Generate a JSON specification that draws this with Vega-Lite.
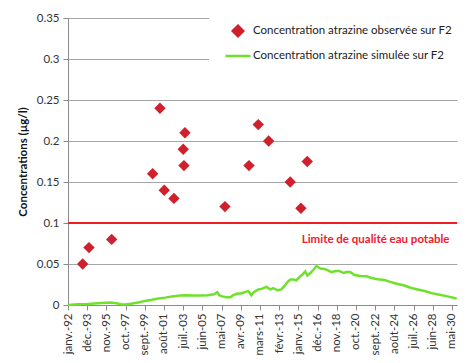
{
  "$schema": "https://vega.github.io/schema/vega-lite/v6.json",
  "width": 389,
  "height": 287,
  "autosize": {"type": "none"},
  "padding": {"left": 68, "top": 18, "right": 15, "bottom": 58},
  "config": {
    "view": {"stroke": null},
    "font": "Lato",
    "axis": {"labelFont": "Lato", "titleFont": "Lato", "labelColor": "#333333", "domainColor": "#8c8c8c", "tickColor": "#8c8c8c", "gridColor": "#a6a6a6", "labelFontSize": 11.5}
  },
  "datasets": {
    "obs": [
      {"date": "1993-06-19", "conc": 0.05, "serie": "Concentration atrazine observée sur F2"},
      {"date": "1994-02-04", "conc": 0.07, "serie": "Concentration atrazine observée sur F2"},
      {"date": "1996-05-11", "conc": 0.08, "serie": "Concentration atrazine observée sur F2"},
      {"date": "2000-06-14", "conc": 0.16, "serie": "Concentration atrazine observée sur F2"},
      {"date": "2001-03-07", "conc": 0.24, "serie": "Concentration atrazine observée sur F2"},
      {"date": "2001-08-11", "conc": 0.14, "serie": "Concentration atrazine observée sur F2"},
      {"date": "2002-07-30", "conc": 0.13, "serie": "Concentration atrazine observée sur F2"},
      {"date": "2003-07-04", "conc": 0.19, "serie": "Concentration atrazine observée sur F2"},
      {"date": "2003-07-30", "conc": 0.17, "serie": "Concentration atrazine observée sur F2"},
      {"date": "2003-09-04", "conc": 0.21, "serie": "Concentration atrazine observée sur F2"},
      {"date": "2007-09-02", "conc": 0.12, "serie": "Concentration atrazine observée sur F2"},
      {"date": "2010-01-25", "conc": 0.17, "serie": "Concentration atrazine observée sur F2"},
      {"date": "2010-12-29", "conc": 0.22, "serie": "Concentration atrazine observée sur F2"},
      {"date": "2012-01-13", "conc": 0.2, "serie": "Concentration atrazine observée sur F2"},
      {"date": "2014-03-09", "conc": 0.15, "serie": "Concentration atrazine observée sur F2"},
      {"date": "2015-04-03", "conc": 0.118, "serie": "Concentration atrazine observée sur F2"},
      {"date": "2015-11-19", "conc": 0.175, "serie": "Concentration atrazine observée sur F2"}
    ],
    "sim": [
      {"date": "1992-01-01", "conc": 0.0, "serie": "Concentration atrazine simulée sur F2"},
      {"date": "1993-01-01", "conc": 0.0008, "serie": "Concentration atrazine simulée sur F2"},
      {"date": "1994-01-01", "conc": 0.0012, "serie": "Concentration atrazine simulée sur F2"},
      {"date": "1995-01-01", "conc": 0.002, "serie": "Concentration atrazine simulée sur F2"},
      {"date": "1995-10-20", "conc": 0.0028, "serie": "Concentration atrazine simulée sur F2"},
      {"date": "1996-04-20", "conc": 0.003, "serie": "Concentration atrazine simulée sur F2"},
      {"date": "1996-10-20", "conc": 0.0022, "serie": "Concentration atrazine simulée sur F2"},
      {"date": "1997-04-20", "conc": 0.001, "serie": "Concentration atrazine simulée sur F2"},
      {"date": "1997-09-10", "conc": 0.0005, "serie": "Concentration atrazine simulée sur F2"},
      {"date": "1998-04-20", "conc": 0.0015, "serie": "Concentration atrazine simulée sur F2"},
      {"date": "1999-01-01", "conc": 0.003, "serie": "Concentration atrazine simulée sur F2"},
      {"date": "1999-09-10", "conc": 0.005, "serie": "Concentration atrazine simulée sur F2"},
      {"date": "2000-05-25", "conc": 0.0065, "serie": "Concentration atrazine simulée sur F2"},
      {"date": "2001-01-01", "conc": 0.008, "serie": "Concentration atrazine simulée sur F2"},
      {"date": "2001-09-10", "conc": 0.009, "serie": "Concentration atrazine simulée sur F2"},
      {"date": "2002-05-25", "conc": 0.0105, "serie": "Concentration atrazine simulée sur F2"},
      {"date": "2003-03-15", "conc": 0.0115, "serie": "Concentration atrazine simulée sur F2"},
      {"date": "2003-10-20", "conc": 0.012, "serie": "Concentration atrazine simulée sur F2"},
      {"date": "2004-05-25", "conc": 0.0115, "serie": "Concentration atrazine simulée sur F2"},
      {"date": "2005-03-15", "conc": 0.0115, "serie": "Concentration atrazine simulée sur F2"},
      {"date": "2005-11-25", "conc": 0.012, "serie": "Concentration atrazine simulée sur F2"},
      {"date": "2006-08-05", "conc": 0.013, "serie": "Concentration atrazine simulée sur F2"},
      {"date": "2006-11-25", "conc": 0.0155, "serie": "Concentration atrazine simulée sur F2"},
      {"date": "2007-02-05", "conc": 0.012, "serie": "Concentration atrazine simulée sur F2"},
      {"date": "2007-05-25", "conc": 0.0105, "serie": "Concentration atrazine simulée sur F2"},
      {"date": "2007-10-20", "conc": 0.0095, "serie": "Concentration atrazine simulée sur F2"},
      {"date": "2008-03-15", "conc": 0.0095, "serie": "Concentration atrazine simulée sur F2"},
      {"date": "2008-07-01", "conc": 0.012, "serie": "Concentration atrazine simulée sur F2"},
      {"date": "2008-11-25", "conc": 0.014, "serie": "Concentration atrazine simulée sur F2"},
      {"date": "2009-04-20", "conc": 0.014, "serie": "Concentration atrazine simulée sur F2"},
      {"date": "2009-09-10", "conc": 0.016, "serie": "Concentration atrazine simulée sur F2"},
      {"date": "2010-01-01", "conc": 0.017, "serie": "Concentration atrazine simulée sur F2"},
      {"date": "2010-04-20", "conc": 0.012, "serie": "Concentration atrazine simulée sur F2"},
      {"date": "2010-08-05", "conc": 0.016, "serie": "Concentration atrazine simulée sur F2"},
      {"date": "2011-01-01", "conc": 0.019, "serie": "Concentration atrazine simulée sur F2"},
      {"date": "2011-05-25", "conc": 0.02, "serie": "Concentration atrazine simulée sur F2"},
      {"date": "2011-10-20", "conc": 0.022, "serie": "Concentration atrazine simulée sur F2"},
      {"date": "2012-03-15", "conc": 0.019, "serie": "Concentration atrazine simulée sur F2"},
      {"date": "2012-07-01", "conc": 0.0205, "serie": "Concentration atrazine simulée sur F2"},
      {"date": "2012-11-25", "conc": 0.018, "serie": "Concentration atrazine simulée sur F2"},
      {"date": "2013-04-20", "conc": 0.019, "serie": "Concentration atrazine simulée sur F2"},
      {"date": "2013-08-05", "conc": 0.023, "serie": "Concentration atrazine simulée sur F2"},
      {"date": "2013-11-25", "conc": 0.028, "serie": "Concentration atrazine simulée sur F2"},
      {"date": "2014-03-15", "conc": 0.031, "serie": "Concentration atrazine simulée sur F2"},
      {"date": "2014-07-01", "conc": 0.031, "serie": "Concentration atrazine simulée sur F2"},
      {"date": "2014-10-20", "conc": 0.03, "serie": "Concentration atrazine simulée sur F2"},
      {"date": "2015-02-05", "conc": 0.034, "serie": "Concentration atrazine simulée sur F2"},
      {"date": "2015-05-25", "conc": 0.037, "serie": "Concentration atrazine simulée sur F2"},
      {"date": "2015-09-10", "conc": 0.041, "serie": "Concentration atrazine simulée sur F2"},
      {"date": "2015-11-25", "conc": 0.036, "serie": "Concentration atrazine simulée sur F2"},
      {"date": "2016-03-15", "conc": 0.039, "serie": "Concentration atrazine simulée sur F2"},
      {"date": "2016-07-01", "conc": 0.043, "serie": "Concentration atrazine simulée sur F2"},
      {"date": "2016-10-20", "conc": 0.0475, "serie": "Concentration atrazine simulée sur F2"},
      {"date": "2017-03-15", "conc": 0.0445, "serie": "Concentration atrazine simulée sur F2"},
      {"date": "2017-08-05", "conc": 0.044, "serie": "Concentration atrazine simulée sur F2"},
      {"date": "2017-11-25", "conc": 0.0425, "serie": "Concentration atrazine simulée sur F2"},
      {"date": "2018-04-20", "conc": 0.04, "serie": "Concentration atrazine simulée sur F2"},
      {"date": "2018-09-10", "conc": 0.0415, "serie": "Concentration atrazine simulée sur F2"},
      {"date": "2019-02-05", "conc": 0.0415, "serie": "Concentration atrazine simulée sur F2"},
      {"date": "2019-07-01", "conc": 0.039, "serie": "Concentration atrazine simulée sur F2"},
      {"date": "2019-11-25", "conc": 0.0405, "serie": "Concentration atrazine simulée sur F2"},
      {"date": "2020-03-15", "conc": 0.04, "serie": "Concentration atrazine simulée sur F2"},
      {"date": "2020-08-05", "conc": 0.0365, "serie": "Concentration atrazine simulée sur F2"},
      {"date": "2021-03-15", "conc": 0.0355, "serie": "Concentration atrazine simulée sur F2"},
      {"date": "2021-10-20", "conc": 0.035, "serie": "Concentration atrazine simulée sur F2"},
      {"date": "2022-04-20", "conc": 0.033, "serie": "Concentration atrazine simulée sur F2"},
      {"date": "2022-11-25", "conc": 0.0315, "serie": "Concentration atrazine simulée sur F2"},
      {"date": "2023-08-05", "conc": 0.0305, "serie": "Concentration atrazine simulée sur F2"},
      {"date": "2024-02-05", "conc": 0.0285, "serie": "Concentration atrazine simulée sur F2"},
      {"date": "2024-10-20", "conc": 0.026, "serie": "Concentration atrazine simulée sur F2"},
      {"date": "2025-07-01", "conc": 0.024, "serie": "Concentration atrazine simulée sur F2"},
      {"date": "2026-03-15", "conc": 0.021, "serie": "Concentration atrazine simulée sur F2"},
      {"date": "2026-11-25", "conc": 0.019, "serie": "Concentration atrazine simulée sur F2"},
      {"date": "2027-08-05", "conc": 0.017, "serie": "Concentration atrazine simulée sur F2"},
      {"date": "2028-04-20", "conc": 0.0145, "serie": "Concentration atrazine simulée sur F2"},
      {"date": "2029-02-05", "conc": 0.0125, "serie": "Concentration atrazine simulée sur F2"},
      {"date": "2029-11-25", "conc": 0.0105, "serie": "Concentration atrazine simulée sur F2"},
      {"date": "2030-10-20", "conc": 0.008, "serie": "Concentration atrazine simulée sur F2"}
    ],
    "limit": [{"conc": 0.1, "date": "2030-02-01", "label": "Limite de qualité eau potable"}]
  },
  "layer": [
    {
      "data": {"name": "sim"},
      "mark": {"type": "line", "strokeWidth": 2.5},
      "encoding": {
        "x": {
          "field": "date",
          "type": "temporal",
          "scale": {"type": "utc", "domain": ["1992-01-01", "2030-11-01"]},
          "axis": {
            "title": null,
            "grid": false,
            "tickCount": 40,
            "values": [
              {"year": 1992, "month": 1, "date": 1, "utc": true},
              {"year": 1993, "month": 12, "date": 1, "utc": true},
              {"year": 1995, "month": 11, "date": 1, "utc": true},
              {"year": 1997, "month": 10, "date": 1, "utc": true},
              {"year": 1999, "month": 9, "date": 1, "utc": true},
              {"year": 2001, "month": 8, "date": 1, "utc": true},
              {"year": 2003, "month": 7, "date": 1, "utc": true},
              {"year": 2005, "month": 6, "date": 1, "utc": true},
              {"year": 2007, "month": 5, "date": 1, "utc": true},
              {"year": 2009, "month": 4, "date": 1, "utc": true},
              {"year": 2011, "month": 3, "date": 1, "utc": true},
              {"year": 2013, "month": 2, "date": 1, "utc": true},
              {"year": 2015, "month": 1, "date": 1, "utc": true},
              {"year": 2016, "month": 12, "date": 1, "utc": true},
              {"year": 2018, "month": 11, "date": 1, "utc": true},
              {"year": 2020, "month": 10, "date": 1, "utc": true},
              {"year": 2022, "month": 9, "date": 1, "utc": true},
              {"year": 2024, "month": 8, "date": 1, "utc": true},
              {"year": 2026, "month": 7, "date": 1, "utc": true},
              {"year": 2028, "month": 6, "date": 1, "utc": true},
              {"year": 2030, "month": 5, "date": 1, "utc": true}
            ],
            "labelExpr": "['janv.','févr.','mars','avr.','mai','juin','juil.','août','sept.','oct.','nov.','déc.'][utcmonth(datum.value)] + '-' + utcFormat(datum.value, '%y')",
            "labelAngle": 270,
            "labelAlign": "right",
            "labelBaseline": "middle",
            "tickSize": 5,
            "labelPadding": 3,
            "labelOverlap": false,
            "labelBound": false,
            "labelFlush": false
          }
        },
        "y": {
          "field": "conc",
          "type": "quantitative",
          "scale": {"domain": [0, 0.35], "nice": false},
          "axis": {
            "title": "Concentrations (µg/l)",
            "titleFontSize": 11.5,
            "titleFontWeight": "bold",
            "titleColor": "#111111",
            "titlePadding": 8,
            "values": [0, 0.05, 0.1, 0.15, 0.2, 0.25, 0.3, 0.35],
            "format": "~g",
            "tickSize": 5,
            "labelPadding": 4
          }
        },
        "color": {
          "field": "serie",
          "type": "nominal",
          "scale": {"domain": ["Concentration atrazine observée sur F2", "Concentration atrazine simulée sur F2"], "range": ["#d0202c", "#6ee22a"]},
          "legend": {
            "title": null,
            "orient": "none",
            "legendX": 141,
            "legendY": -16,
            "fillColor": "white",
            "padding": 15,
            "labelFontSize": 11.5,
            "labelColor": "#222222",
            "labelOffset": 1,
            "labelLimit": 300,
            "symbolSize": 625,
            "rowPadding": 0,
            "symbolType": "stroke",
            "symbolStrokeWidth": 2.5,
            "encode": {
              "symbols": {
                "update": {
                  "shape": {"signal": "datum.index == 0 ? 'diamond' : 'stroke'"},
                  "size": {"signal": "datum.index == 0 ? 110 : 625"},
                  "fill": {"signal": "datum.index == 0 ? '#d0202c' : 'transparent'"},
                  "stroke": {"signal": "datum.index == 0 ? 'transparent' : '#6ee22a'"}
                }
              }
            }
          }
        }
      }
    },
    {
      "data": {"name": "obs"},
      "mark": {"type": "point", "shape": "diamond", "filled": true, "size": 130, "opacity": 1},
      "encoding": {
        "x": {"field": "date", "type": "temporal"},
        "y": {"field": "conc", "type": "quantitative"},
        "color": {"field": "serie", "type": "nominal"}
      }
    },
    {
      "data": {"name": "limit"},
      "mark": {"type": "rule", "color": "#f01e23", "strokeWidth": 2},
      "encoding": {"y": {"field": "conc", "type": "quantitative"}}
    },
    {
      "data": {"name": "limit"},
      "mark": {"type": "text", "color": "#ee2030", "fontWeight": "bold", "fontSize": 11.5, "align": "right", "baseline": "middle", "dy": 17},
      "encoding": {
        "x": {"field": "date", "type": "temporal"},
        "y": {"field": "conc", "type": "quantitative"},
        "text": {"field": "label"}
      }
    }
  ]
}
